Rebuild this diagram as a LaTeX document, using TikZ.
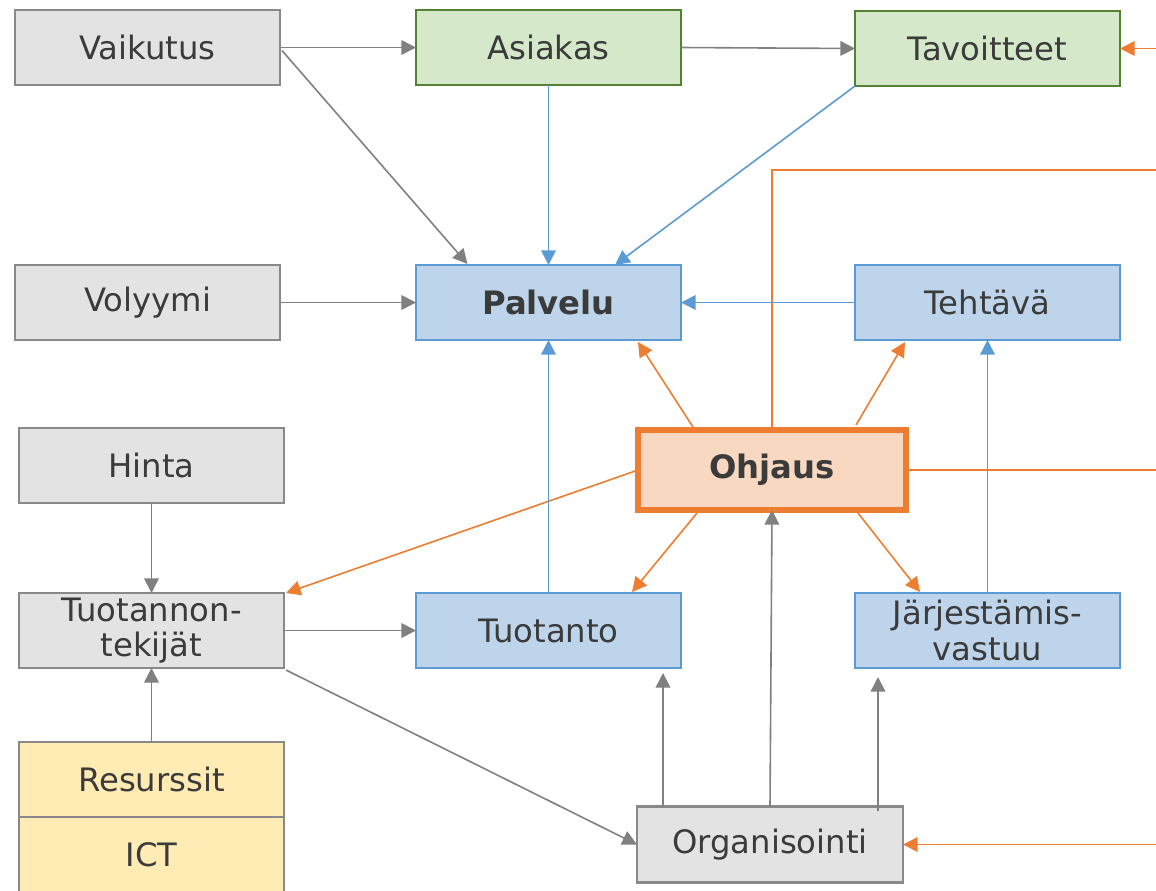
\documentclass[tikz,border=0pt]{standalone}
\usepackage{fontspec}
\setmainfont{DejaVu Sans}
\usetikzlibrary{arrows.meta,calc}
\definecolor{txt}{RGB}{59,59,59}
\definecolor{gfill}{RGB}{227,227,227}
\definecolor{gline}{RGB}{137,137,137}
\definecolor{grfill}{RGB}{213,232,202}
\definecolor{grline}{RGB}{84,130,53}
\definecolor{bfill}{RGB}{190,212,234}
\definecolor{bline}{RGB}{91,155,213}
\definecolor{ofill}{RGB}{248,216,192}
\definecolor{oline}{RGB}{237,125,49}
\definecolor{yfill}{RGB}{255,235,180}
\definecolor{agray}{RGB}{128,128,128}
\tikzset{
  box/.style={draw, line width=2pt, minimum width=198.75pt, minimum height=56.25pt,
    inner sep=0pt, outer sep=0pt, text=txt, font=\fontsize{24.2}{26.5}\selectfont, align=center},
  graybox/.style={box, fill=gfill, draw=gline},
  greenbox/.style={box, fill=grfill, draw=grline},
  bluebox/.style={box, fill=bfill, draw=bline},
  yellowbox/.style={box, fill=yfill, draw=gline},
  ohjbox/.style={box, fill=ofill, draw=oline, line width=4.5pt, minimum width=201pt, minimum height=60pt},
  tip/.style={-{Triangle[length=11pt,width=11pt]}},
  garr/.style={draw=agray, line width=1.2pt, tip},
  barr/.style={draw=bline, line width=1.2pt, tip},
  oarr/.style={draw=oline, line width=1.2pt, tip},
  oline/.style={draw=oline, line width=1.2pt},
}
\begin{document}
\begin{tikzpicture}[x=0.75pt,y=-0.75pt]
\useasboundingbox (0,0) rectangle (1156,890);
% nodes
\node[graybox]  (vaik)  at (147.5,47.5)  {Vaikutus};
\node[greenbox] (asiak) at (548.5,47.5)  {Asiakas};
\node[greenbox] (tavo)  at (987.5,48.5)  {Tavoitteet};
\node[graybox]  (voly)  at (147.5,302.5) {Volyymi};
\node[bluebox]  (palv)  at (548.5,302.5) {\bfseries Palvelu};
\node[bluebox]  (teht)  at (987.5,302.5) {Tehtävä};
\node[graybox]  (hinta) at (151.5,465.5) {Hinta};
\node[ohjbox]   (ohj)   at (772,470)     {\bfseries Ohjaus};
\node[graybox]  (tuot)  at (151.5,630.5) {Tuotannon-\\tekijät};
\node[bluebox]  (tuoto) at (548.5,630.5) {Tuotanto};
\node[bluebox]  (jarj)  at (987.5,630.5) {Järjestämis-\\vastuu};
\node[yellowbox](res)   at (151.5,779.5) {Resurssit};
\node[yellowbox](ict)   at (151.5,854.5) {ICT};
\node[graybox, minimum width=199.5pt, minimum height=57pt] (org) at (770,844.5) {Organisointi};
% free ends at the right edge
\coordinate (eT) at (1156,48.5);
\coordinate (eA) at (1156,170);
\coordinate (eB) at (1156,470);
\coordinate (eC) at (1156,844.5);
% helper points
\coordinate (o1) at ($(org.north west)+(26,0)$);
\coordinate (t1) at ($(o1 |- tuoto.south)+(0,5)$);
\coordinate (o3) at ($(org.north east)+(-25,4)$);
\coordinate (t3) at ($(o3 |- jarj.south)+(0,9)$);
% top row
\draw[garr] (vaik.east) -- (asiak.west);
\draw[garr] (asiak.east) -- (tavo.west);
\draw[oarr] (eT) -- (tavo.east);
\draw[garr] ($(vaik.east)+(2,3)$) -- ($(palv.north)+(-81,-1)$);
\draw[barr] (asiak.south) -- (palv.north);
\draw[barr] (tavo.south west) -- ($(palv.north)+(66.5,0)$);
% middle
\draw[oline] (eA) -| (ohj.north);
\draw[garr] (voly.east) -- (palv.west);
\draw[barr] (teht.west) -- (palv.east);
\draw[oarr] ($(ohj.north west)+(55,-3)$) -- ($(palv.south east)+(-43,2)$);
\draw[oarr] ($(ohj.north east)+(-50,-5)$) -- ($(teht.south west)+(50,2)$);
\draw[oline] (ohj.east) -- (eB);
\draw[oarr] (ohj.west) -- ($(tuot.north east)+(2,0)$);
\draw[oarr] ($(ohj.south west)+(59,3)$) -- ($(tuoto.north east)+(-49,-1)$);
\draw[oarr] ($(ohj.south east)+(-48,3)$) -- ($(jarj.north west)+(65,-1)$);
\draw[barr] (tuoto.north) -- (palv.south);
\draw[barr] (jarj.north) -- (teht.south);
% left column
\draw[garr] (hinta.south) -- (tuot.north);
\draw[garr] (res.north) -- (tuot.south);
\draw[garr] (tuot.east) -- (tuoto.west);
\draw[garr] ($(tuot.south east)+(2,2)$) -- (org.west);
% organisointi
\draw[garr] (o1) -- (t1);
\draw[garr] (org.north) -- (ohj.south);
\draw[garr] (o3) -- (t3);
\draw[oarr] (eC) -- (org.east);
\end{tikzpicture}
\end{document}
